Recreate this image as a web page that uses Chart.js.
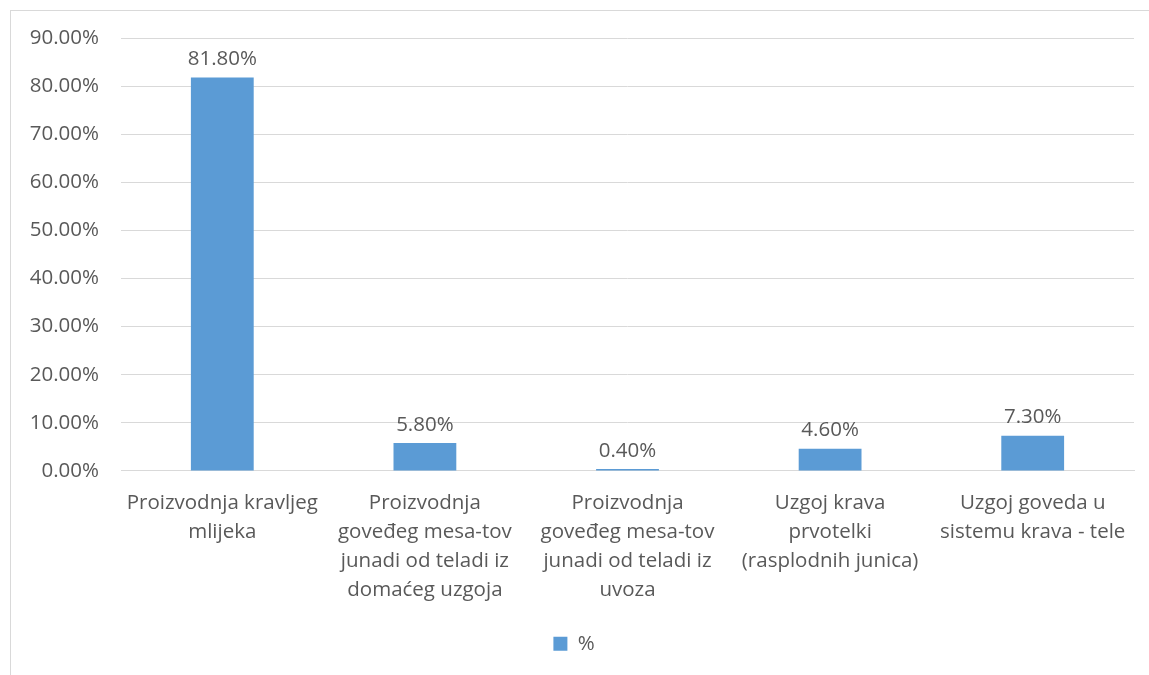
<!DOCTYPE html>
<html>
<head>
<meta charset="utf-8">
<script src="https://cdn.jsdelivr.net/npm/chart.js@4"></script>
<style>
    html, body { margin: 0; padding: 0; background: #fff; }
    #wrap { width: 1149px; height: 675px; position: relative; }
</style>
</head>
<body>
<div id="wrap"><canvas id="chart"></canvas></div>
<script>
const categories = [
    ['Proizvodnja kravljeg', 'mlijeka'],
    ['Proizvodnja', 'goveđeg mesa-tov', 'junadi od teladi iz', 'domaćeg uzgoja'],
    ['Proizvodnja', 'goveđeg mesa-tov', 'junadi od teladi iz', 'uvoza'],
    ['Uzgoj krava', 'prvotelki', '(rasplodnih junica)'],
    ['Uzgoj goveda u', 'sistemu krava - tele']
];
const seriesName = '%';
const values = [81.8, 5.8, 0.4, 4.6, 7.3];
const yTicks = [0, 10, 20, 30, 40, 50, 60, 70, 80, 90];

const textColor = '#595959';
const fontFamily = "'Open Sans', 'Liberation Sans', sans-serif";
const fontSize = 20.5;

// frame round the chart + value labels over the bars
const framePlugin = {
    id: 'frame',
    beforeDraw(chart) {
        const ctx = chart.ctx;
        ctx.save();
        ctx.strokeStyle = '#d9d9d9';
        ctx.lineWidth = 1;
        ctx.strokeRect(10.5, 10.5, 1160, 700);
        ctx.restore();
    }
};
const labelPlugin = {
    id: 'barLabels',
    afterDatasetsDraw(chart) {
        const ctx = chart.ctx;
        const meta = chart.getDatasetMeta(0);
        ctx.save();
        ctx.fillStyle = textColor;
        ctx.font = fontSize + 'px ' + fontFamily;
        ctx.textAlign = 'center';
        ctx.textBaseline = 'bottom';
        meta.data.forEach((bar, i) => {
            ctx.fillText(values[i].toFixed(2) + '%', bar.x, bar.y - 8);
        });
        ctx.restore();
    }
};

const ctx = document.getElementById('chart').getContext('2d');
const myChart = new Chart(ctx, {
    type: 'bar',
    data: {
        labels: categories,
        datasets: [{
            label: seriesName,
            data: values,
            backgroundColor: '#5b9bd5',
            categoryPercentage: 1,
            barPercentage: 0.31
        }]
    },
    options: {
        responsive: true,
        maintainAspectRatio: false,
        animation: false,
        layout: { padding: { left: 14, right: 15, top: 38, bottom: 11 } },
        scales: {
            x: {
                grid: { display: false },
                border: { color: '#d9d9d9' },
                ticks: {
                    color: textColor,
                    font: { family: fontFamily, size: fontSize, lineHeight: 1.41 },
                    maxRotation: 0,
                    autoSkip: false,
                    padding: 10
                }
            },
            y: {
                min: 0,
                max: 90,
                afterBuildTicks: function (scale) {
                    scale.ticks = yTicks.map(v => ({ value: v }));
                },
                afterFit: function (scale) {
                    scale.width = 107;
                },
                grid: { color: '#d9d9d9', drawTicks: false },
                border: { display: false },
                ticks: {
                    color: textColor,
                    font: { family: fontFamily, size: fontSize },
                    padding: 22,
                    callback: v => v.toFixed(2) + '%'
                }
            }
        },
        plugins: {
            legend: {
                position: 'bottom',
                labels: {
                    color: textColor,
                    font: { family: fontFamily, size: fontSize },
                    boxWidth: 14,
                    boxHeight: 14,
                    padding: 19
                }
            },
            tooltip: { enabled: false }
        }
    },
    plugins: [framePlugin, labelPlugin]
});
</script>
</body>
</html>
